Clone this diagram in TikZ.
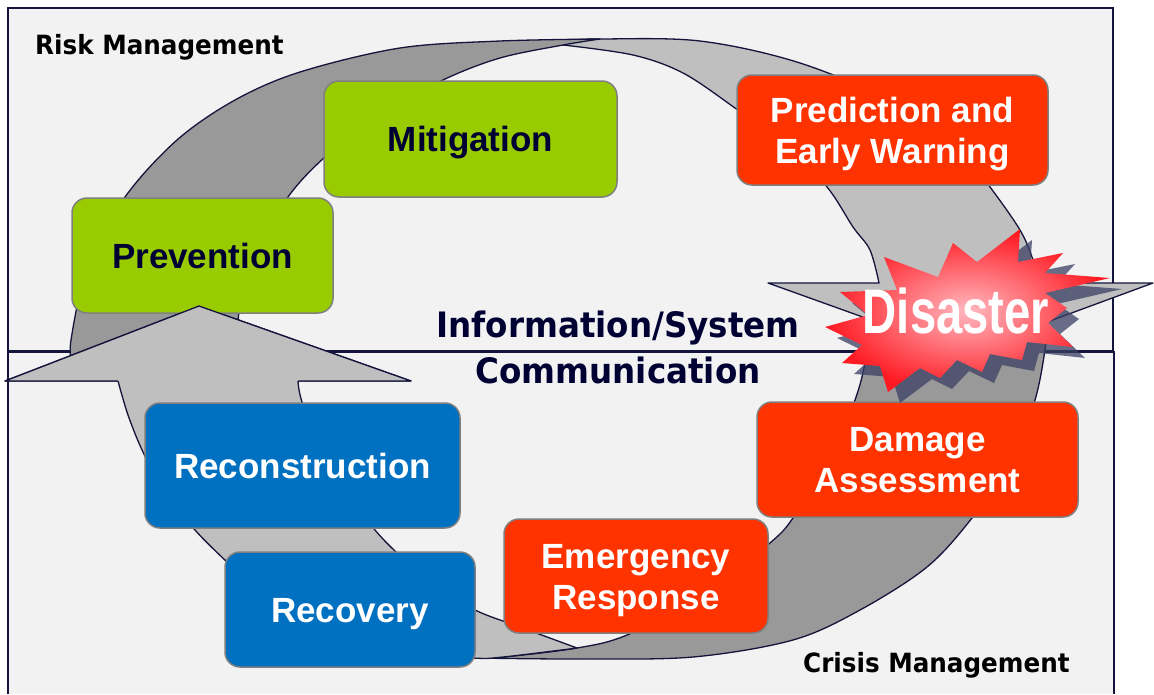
\documentclass[tikz,border=0pt]{standalone}
\usepackage{fontspec}
\setmainfont{Liberation Sans}
\newfontfamily\tahomalike[FakeStretch=0.93]{DejaVu Sans}
\newfontfamily\impactlike[FakeStretch=0.75]{Liberation Sans}

\definecolor{panelgray}{HTML}{F2F2F2}
\definecolor{edgenavy}{HTML}{14143C}
\definecolor{bandback}{HTML}{999999}
\definecolor{bandfront}{HTML}{BFBFBF}
\definecolor{boxgray}{HTML}{7F7F7F}
\definecolor{riskgreen}{HTML}{99CC00}
\definecolor{crisisred}{HTML}{FF3300}
\definecolor{recoblue}{HTML}{0070C0}
\definecolor{textnavy}{HTML}{000033}
\definecolor{burstred}{HTML}{FF1A22}
\definecolor{burstpink}{HTML}{FFB8C0}
\definecolor{burstshadow}{HTML}{3C4064}

\newcommand{\burstoutline}{(1020,229) -- (977,262) -- (953,243) -- (938,277) -- (884,257) -- (897,290) -- (840,292) -- (868,315) -- (825,327) -- (862,345) -- (842,363) -- (880,366) -- (888,392) -- (920,368) -- (940,378) -- (957,360) -- (982,372) -- (990,354) -- (1022,360) -- (1027,342) -- (1073,347) -- (1048,323) -- (1067,308) -- (1045,293) -- (1110,278) -- (1045,273) -- (1063,253) -- (1018,262) -- cycle}

\begin{document}
\begin{tikzpicture}[x=1pt,y=-1pt]

\tikzset{panel/.style = {fill=panelgray, draw=edgenavy, line width=1.5pt},
         band/.style = {draw=edgenavy, line width=1.3pt, line join=round},
         backband/.style = {band, fill=bandback},
         frontband/.style = {band, fill=bandfront},
         stage/.style = {rounded corners=15pt, draw=boxgray, line width=1.5pt, inner sep=0pt,
                         align=center, font=\fontsize{35}{41}\selectfont\bfseries,
                         text height=25pt, text depth=0pt},
         twolines/.style = {text height=66pt},
         risk/.style = {stage, fill=riskgreen, text=textnavy},
         crisis/.style = {stage, fill=crisisred, text=white},
         recov/.style = {stage, fill=recoblue, text=white},
         corner/.style = {font=\tahomalike\fontsize{26.5}{30}\selectfont\bfseries, inner sep=0pt}}

\useasboundingbox (0,0) rectangle (1154,694);

\fill[panelgray] (8,352) rectangle (1114,694);
\draw[edgenavy, line width=1.5pt] (8,694) -- (8,352) -- (1114,352) -- (1114,694);
\filldraw[panel] (8,8) rectangle (1113,351);

\filldraw[backband] plot[smooth, tension=.55] coordinates {(1047,325) (1045,350) (1035,400) (1012,460) (972,518) (927,567) (860,610) (793,640) (693,657) (580,659) (473,658)}
  -- plot[smooth, tension=.55] coordinates {(473,658) (503,657) (577,648) (627,635) (705,595) (770,543) (793,518) (830,460) (855,400) (865,363) (870,325)} -- cycle;

\filldraw[frontband] plot[smooth, tension=.55] coordinates {(552,41) (600,39) (700,41) (800,63) (900,105) (960,150) (990,187) (1020,230) (1033,260) (1038,283)}
  -- (1153,283) -- (963,353) -- (768,283) -- (879,283)
  -- plot[smooth, tension=.55] coordinates {(879,283) (870,250) (853,227) (827,187) (785,145) (735,108) (683,73) (633,55) (563,45)} -- cycle;

\filldraw[backband] plot[smooth, tension=.55] coordinates {(72,368) (71,340) (88,265) (125,197) (177,140) (235,100) (300,72) (400,48) (500,41) (600,39)}
  -- plot[smooth, tension=.55] coordinates {(600,39) (563,45) (500,58) (443,80) (380,115) (325,157) (288,197) (258,250) (241,300) (237,340) (237,368)} -- cycle;

\filldraw[frontband] (118,381) -- (5,381) -- (199,306) -- (411,381) -- (298,381)
  -- plot[smooth, tension=.55] coordinates {(298,381) (302,402) (322,455) (350,498) (375,530) (395,551) (430,583) (475,610) (520,627) (577,648)}
  -- plot[smooth, tension=.55] coordinates {(577,648) (503,657) (473,658) (400,651) (320,625) (260,592) (227,562) (195,530) (165,492) (143,452) (128,415) (118,381)} -- cycle;

\node[risk, minimum width=261pt, minimum height=115pt] (prevention) at (202.5,255.5) {Prevention};
\node[risk, minimum width=293pt, minimum height=116pt] (mitigation) at (470.5,139) {Mitigation};
\node[crisis, twolines, minimum width=311pt, minimum height=110pt] (prediction) at (892.5,130) {Prediction and\\Early Warning};
\node[crisis, twolines, minimum width=321pt, minimum height=115pt] (damage) at (917.5,459.5) {Damage\\Assessment};
\node[crisis, twolines, minimum width=264pt, minimum height=114pt] (emergency) at (636,576) {Emergency\\Response};
\node[recov, minimum width=315pt, minimum height=125pt] (reconstruction) at (302.5,465.5) {Reconstruction};
\node[recov, minimum width=250pt, minimum height=115pt] (recovery) at (350,609.5) {Recovery};

\fill[bandfront] (118,381) -- (5,381) -- (199,306) -- (411,381) -- (298,381) -- cycle;
\draw[band] (118,381) -- (5,381) -- (199,306) -- (411,381) -- (298,381);

\fill[burstshadow, opacity=.75, shift={(12,11)}] \burstoutline;
\shade[inner color=burstpink, outer color=burstred] \burstoutline;
\node[font=\impactlike\fontsize{63}{63}\selectfont\bfseries, text=white, anchor=base, inner sep=0pt] (disaster) at (956,333) {Disaster};

\node[font=\tahomalike\fontsize{35}{46}\selectfont\bfseries, text=textnavy, align=center, inner sep=0pt,
      text height=71pt, text depth=0pt] (infocomm) at (618,347.5) {Information/System\\Communication};

\node[corner, anchor=base west] (riskmgmt) at (35,54) {Risk Management};
\node[corner, anchor=base west] (crisismgmt) at (803,672) {Crisis Management};

\end{tikzpicture}
\end{document}
